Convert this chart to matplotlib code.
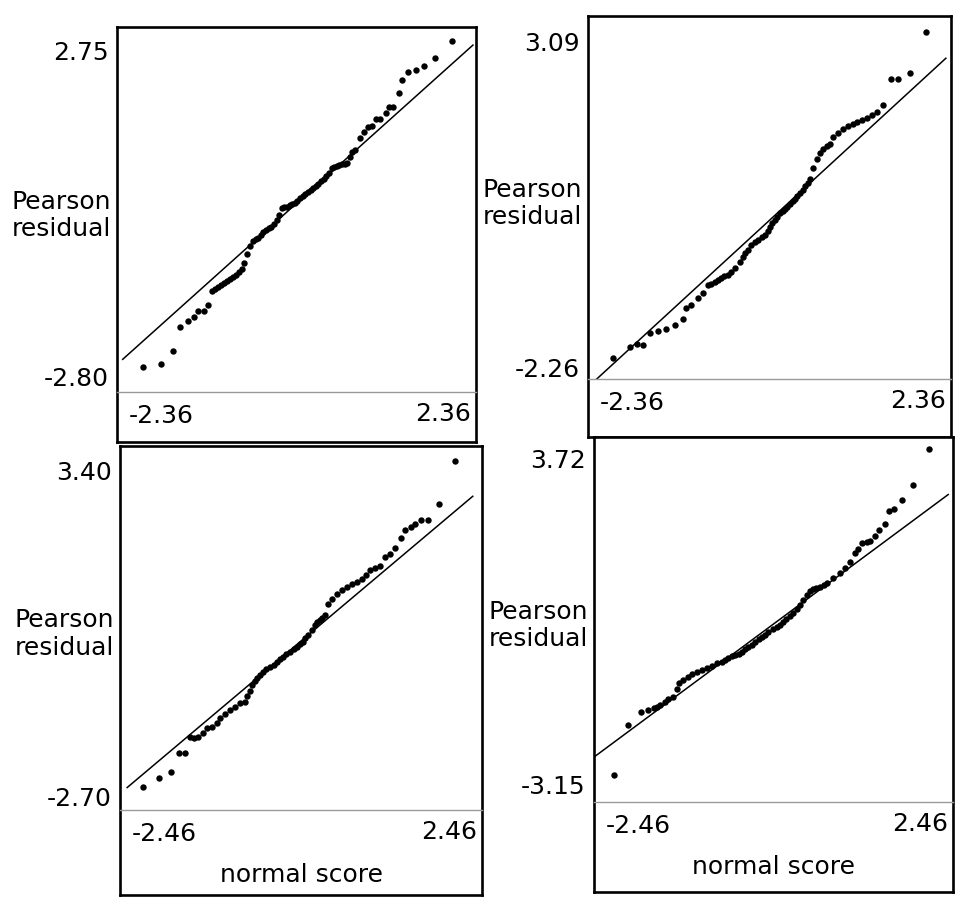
import matplotlib.pyplot as plt

# ---------------------------------------------------
# DATA: normal scores and Pearson residuals
# ---------------------------------------------------
tl_score = [-2.36, -2.09, -1.90, -1.79, -1.67, -1.58, -1.52, -1.43, -1.37, -1.31,
            -1.26, -1.21, -1.17, -1.12, -1.08, -1.03, -0.98, -0.94, -0.89, -0.85,
            -0.81, -0.77,
            -0.72, -0.68, -0.64, -0.60, -0.56, -0.52, -0.48, -0.44, -0.40, -0.36,
            -0.32, -0.28, -0.24, -0.20, -0.16, -0.12, -0.08, -0.04, 0.00, 0.04,
            0.08, 0.12, 0.16, 0.20, 0.24, 0.28, 0.32, 0.36, 0.40, 0.44,
            0.48, 0.52, 0.56, 0.60, 0.64, 0.68, 0.72, 0.76, 0.80, 0.84,
            0.88, 0.96, 1.02, 1.08, 1.14, 1.20, 1.26, 1.35, 1.40, 1.46,
            1.55, 1.60, 1.69, 1.81, 1.93, 2.10, 2.36]
tl_resid = [-2.80, -2.75, -2.53, -2.12, -2.02, -1.95, -1.85, -1.85, -1.74, -1.51,
            -1.47, -1.44, -1.40, -1.37, -1.34, -1.30, -1.27, -1.23, -1.18, -1.13,
            -1.03, -0.88,
            -0.74, -0.66, -0.62, -0.60, -0.55, -0.50, -0.46, -0.44, -0.41, -0.36,
            -0.30, -0.22, -0.10, -0.08, -0.07, -0.05, -0.03, 0.00, 0.03, 0.08,
            0.11, 0.14, 0.18, 0.21, 0.25, 0.28, 0.32, 0.36, 0.40, 0.45,
            0.50, 0.58, 0.61, 0.63, 0.64, 0.65, 0.66, 0.68, 0.78, 0.86,
            0.90, 1.10, 1.20, 1.28, 1.30, 1.42, 1.42, 1.52, 1.63, 1.63,
            1.86, 2.08, 2.22, 2.25, 2.32, 2.46, 2.75]

tr_score = [-2.36, -2.10, -2.00, -1.91, -1.80, -1.68, -1.56, -1.43, -1.30, -1.26,
            -1.18, -1.08, -1.00, -0.93, -0.88, -0.82, -0.78, -0.73, -0.68, -0.63,
            -0.58, -0.52, -0.45, -0.40, -0.37, -0.33, -0.28, -0.22, -0.17, -0.12,
            -0.07, -0.03, 0.01, 0.04, 0.08, 0.12, 0.16, 0.20, 0.23, 0.27,
            0.31, 0.35, 0.38, 0.42, 0.46, 0.50, 0.54, 0.58, 0.61, 0.66,
            0.72, 0.76, 0.81, 0.87, 0.91, 0.96, 1.03, 1.11, 1.18, 1.26,
            1.32, 1.40, 1.47, 1.55, 1.62, 1.71, 1.83, 1.94, 2.12, 2.36]
tr_resid = [-2.26, -2.08, -2.03, -2.05, -1.85, -1.82, -1.78, -1.72, -1.62, -1.44,
            -1.39, -1.28, -1.19, -1.06, -1.04, -1.01, -0.98, -0.95, -0.92, -0.90,
            -0.85, -0.78, -0.69, -0.60, -0.54, -0.48, -0.41, -0.36, -0.32, -0.28,
            -0.24, -0.17, -0.11, -0.05, 0.00, 0.06, 0.12, 0.15, 0.18, 0.22,
            0.27, 0.31, 0.35, 0.40, 0.45, 0.50, 0.56, 0.62, 0.68, 0.86,
            1.01, 1.10, 1.17, 1.22, 1.25, 1.37, 1.43, 1.50, 1.55, 1.58,
            1.61, 1.65, 1.68, 1.73, 1.78, 1.89, 2.32, 2.32, 2.42, 3.09]

bl_score = [-2.46, -2.21, -2.02, -1.89, -1.80, -1.72, -1.66, -1.59, -1.51, -1.45,
            -1.37, -1.29, -1.25, -1.17, -1.09, -1.01, -0.93, -0.85, -0.82, -0.78,
            -0.74, -0.70, -0.66, -0.62, -0.57, -0.52, -0.46, -0.40, -0.35, -0.30,
            -0.25, -0.20, -0.14, -0.08, -0.03, 0.02, 0.06, 0.10, 0.14, 0.20,
            0.25, 0.29, 0.33, 0.37, 0.41, 0.46, 0.52, 0.60, 0.68, 0.76,
            0.84, 0.91, 0.99, 1.06, 1.12, 1.20, 1.28, 1.36, 1.44, 1.51,
            1.61, 1.67, 1.77, 1.83, 1.92, 2.03, 2.21, 2.46]
bl_resid = [-2.70, -2.53, -2.42, -2.06, -2.06, -1.77, -1.78, -1.76, -1.69, -1.60,
            -1.58, -1.50, -1.41, -1.33, -1.26, -1.20, -1.13, -1.11, -1.00, -0.90,
            -0.79, -0.72, -0.66, -0.60, -0.55, -0.50, -0.45, -0.41, -0.36, -0.31,
            -0.27, -0.22, -0.17, -0.12, -0.08, -0.03, 0.01, 0.08, 0.14, 0.24,
            0.33, 0.38, 0.42, 0.47, 0.52, 0.72, 0.82, 0.91, 0.99, 1.04,
            1.10, 1.14, 1.19, 1.27, 1.36, 1.40, 1.43, 1.60, 1.66, 1.77,
            1.96, 2.11, 2.16, 2.22, 2.30, 2.30, 2.59, 3.40]

br_score = [-2.46, -2.24, -2.04, -1.93, -1.84, -1.79, -1.74, -1.66, -1.62, -1.54,
            -1.48, -1.44, -1.38, -1.30, -1.24, -1.16, -1.09, -1.01, -0.93, -0.85,
            -0.77, -0.72, -0.68, -0.62, -0.57, -0.51, -0.46, -0.41, -0.37, -0.31,
            -0.26, -0.20, -0.15, -0.10, -0.05, 0.02, 0.09, 0.14, 0.18, 0.23,
            0.29, 0.34, 0.40, 0.45, 0.49, 0.55, 0.60, 0.65, 0.70, 0.76,
            0.82, 0.87, 0.96, 1.07, 1.15, 1.23, 1.30, 1.35, 1.41, 1.49,
            1.54, 1.62, 1.68, 1.77, 1.84, 1.91, 2.04, 2.21, 2.46]
br_resid = [-3.15, -2.10, -1.82, -1.78, -1.74, -1.72, -1.67, -1.61, -1.55, -1.51,
            -1.34, -1.21, -1.15, -1.09, -1.02, -0.98, -0.94, -0.90, -0.85, -0.79,
            -0.77, -0.73, -0.69, -0.65, -0.62, -0.59, -0.56, -0.50, -0.45, -0.40,
            -0.35, -0.29, -0.24, -0.19, -0.14, -0.08, -0.03, 0.02, 0.07, 0.13,
            0.20, 0.27, 0.35, 0.44, 0.54, 0.65, 0.73, 0.77, 0.79, 0.81,
            0.85, 0.90, 1.00, 1.11, 1.21, 1.34, 1.53, 1.61, 1.74, 1.76,
            1.78, 1.89, 2.01, 2.14, 2.41, 2.45, 2.64, 2.96, 3.72]

# reference line y = x drawn between these normal scores
ref_ends = [(-2.67, 2.68), (-2.70, 2.66), (-2.71, 2.74), (-2.76, 2.76)]

y_label = "Pearson\nresidual"
x_label = "normal score"

# ---------------------------------------------------
# LAYOUT (pixels): box left, box top, box right, box bottom, separator line
# ---------------------------------------------------
W, H = 957, 898
box_px = [(117, 27, 476, 442, 392),
          (588, 16, 951, 437, 379),
          (120, 446, 482, 895, 810),
          (594, 437, 953, 892, 802)]
xlims = [(-2.757, 2.727), (-2.737, 2.737), (-2.823, 2.886), (-2.772, 2.835)]
ylims = [(-3.226, 2.988), (-2.605, 3.353), (-3.130, 3.681), (-3.719, 3.973)]
series = [(tl_score, tl_resid), (tr_score, tr_resid),
          (bl_score, bl_resid), (br_score, br_resid)]
show_xlabel = [False, False, True, True]

PT = 0.72  # points per pixel at dpi 100
FS = 18

plt.rcParams['font.family'] = ['DejaVu Sans']


def frac(l, t, r, b):
    return [l / W, 1 - b / H, (r - l) / W, (b - t) / H]


fig = plt.figure(figsize=(W / 100, H / 100), dpi=100)

for i, (xs, ys) in enumerate(series):
    l, t, r, b, g = box_px[i]

    # outer frame holding the labels
    box = fig.add_axes(frac(l, t, r, b))
    box.set_xticks([])
    box.set_yticks([])
    for s in box.spines.values():
        s.set_linewidth(1.9)
        s.set_color('black')

    # inner data window, down to the grey separator line
    ax = fig.add_axes(frac(l, t, r, g))
    ax.patch.set_alpha(0)
    for side in ['top', 'left', 'right']:
        ax.spines[side].set_visible(False)
    ax.spines['bottom'].set_color('#9a9a9a')
    ax.spines['bottom'].set_linewidth(1.0)

    lo, hi = ref_ends[i]
    ax.plot([lo, hi], [lo, hi], color='black', lw=1.1)
    ax.plot(xs, ys, 'o', ms=4.6, color='black', mec='none')

    ax.set_xlim(*xlims[i])
    ax.set_ylim(*ylims[i])
    ax.set_xticks([])
    ax.set_yticks([min(ys), max(ys)])
    ax.set_yticklabels([f"{min(ys):.2f}", f"{max(ys):.2f}"])
    ax.tick_params(axis='y', length=0, pad=6, labelsize=FS)
    for lbl in ax.get_yticklabels():
        lbl.set_va('top')

    # end values of the normal scores, inside the box below the separator
    ax.annotate(f"{min(xs):.2f}", xy=(0, 0), xycoords='axes fraction',
                xytext=(12 * PT, -24 * PT), textcoords='offset points',
                ha='left', va='center', fontsize=FS)
    ax.annotate(f"{max(xs):.2f}", xy=(1, 0), xycoords='axes fraction',
                xytext=(-5 * PT, -22 * PT), textcoords='offset points',
                ha='right', va='center', fontsize=FS)

    ax.annotate(y_label, xy=(0, 0.5), xycoords='axes fraction',
                xytext=(-6 * PT, -6 * PT), textcoords='offset points',
                ha='right', va='center', multialignment='right',
                linespacing=1.2, fontsize=FS)

    if show_xlabel[i]:
        ax.annotate(x_label, xy=(0.5, 0), xycoords='axes fraction',
                    xytext=(0, -65 * PT), textcoords='offset points',
                    ha='center', va='center', fontsize=FS)

fig.savefig('out.png', dpi=100)
